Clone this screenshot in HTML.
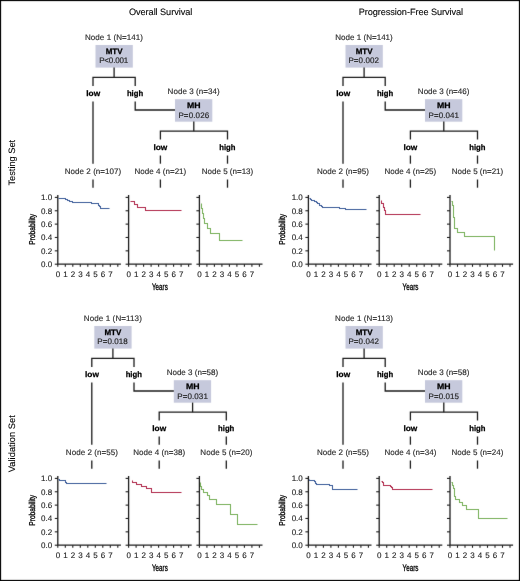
<!DOCTYPE html><html><head><meta charset="utf-8"><style>html,body{margin:0;padding:0;background:#fff;}svg{display:block;will-change:transform;}text{font-family:"Liberation Sans", sans-serif;text-rendering:geometricPrecision;}</style></head><body>
<svg width="520" height="581" viewBox="0 0 520 581">
<defs><filter id="bl" x="0" y="0" width="520" height="581" filterUnits="userSpaceOnUse" color-interpolation-filters="sRGB"><feConvolveMatrix order="3" kernelMatrix="0.01 0.05 0.01 0.05 0.76 0.05 0.01 0.05 0.01" edgeMode="duplicate"/></filter><filter id="bt" x="0" y="0" width="520" height="581" filterUnits="userSpaceOnUse" color-interpolation-filters="sRGB"><feConvolveMatrix order="3" kernelMatrix="0.01 0.05 0.01 0.05 0.76 0.05 0.01 0.05 0.01" edgeMode="duplicate"/></filter></defs><g filter="url(#bl)">
<rect x="0" y="0" width="520" height="581" fill="#fff"/>
<rect x="0.5" y="0.5" width="519" height="580" fill="none" stroke="#000" stroke-width="1.2"/>
<rect x="95.5" y="45" width="37.3" height="22.6" fill="#c6c9dc"/>
<path d="M114.1 67.6 L114.1 77.3" stroke="#1c1c1c" stroke-width="1.3" fill="none"/>
<path d="M93 86 L93 77.3 L135.2 77.3 L135.2 86" stroke="#1c1c1c" stroke-width="1.3" fill="none"/>
<path d="M93 101.5 L93 163.7" stroke="#1c1c1c" stroke-width="1.3" fill="none"/>
<path d="M135.2 101.5 L135.2 110 L175.2 110" stroke="#1c1c1c" stroke-width="1.3" fill="none"/>
<rect x="175" y="99.2" width="37.3" height="22.5" fill="#c6c9dc"/>
<path d="M193.8 121.6 L193.8 131.2" stroke="#1c1c1c" stroke-width="1.3" fill="none"/>
<path d="M160.4 139.6 L160.4 131.2 L227.5 131.2 L227.5 139.6" stroke="#1c1c1c" stroke-width="1.3" fill="none"/>
<path d="M160.4 155.5 L160.4 163.7" stroke="#1c1c1c" stroke-width="1.3" fill="none"/>
<path d="M227.5 155.5 L227.5 163.7" stroke="#1c1c1c" stroke-width="1.3" fill="none"/>
<path d="M93 179.5 L93 187.7" stroke="#1c1c1c" stroke-width="1.3" fill="none"/>
<path d="M160.4 179.5 L160.4 187.7" stroke="#1c1c1c" stroke-width="1.3" fill="none"/>
<path d="M227.5 179.5 L227.5 187.7" stroke="#1c1c1c" stroke-width="1.3" fill="none"/>
<rect x="345.5" y="45" width="37.3" height="22.6" fill="#c6c9dc"/>
<path d="M364.1 67.6 L364.1 77.3" stroke="#1c1c1c" stroke-width="1.3" fill="none"/>
<path d="M343 86 L343 77.3 L385.2 77.3 L385.2 86" stroke="#1c1c1c" stroke-width="1.3" fill="none"/>
<path d="M343 101.5 L343 163.7" stroke="#1c1c1c" stroke-width="1.3" fill="none"/>
<path d="M385.2 101.5 L385.2 110 L425.2 110" stroke="#1c1c1c" stroke-width="1.3" fill="none"/>
<rect x="425" y="99.2" width="37.3" height="22.5" fill="#c6c9dc"/>
<path d="M443.8 121.6 L443.8 131.2" stroke="#1c1c1c" stroke-width="1.3" fill="none"/>
<path d="M410.4 139.6 L410.4 131.2 L477.5 131.2 L477.5 139.6" stroke="#1c1c1c" stroke-width="1.3" fill="none"/>
<path d="M410.4 155.5 L410.4 163.7" stroke="#1c1c1c" stroke-width="1.3" fill="none"/>
<path d="M477.5 155.5 L477.5 163.7" stroke="#1c1c1c" stroke-width="1.3" fill="none"/>
<path d="M343 179.5 L343 187.7" stroke="#1c1c1c" stroke-width="1.3" fill="none"/>
<path d="M410.4 179.5 L410.4 187.7" stroke="#1c1c1c" stroke-width="1.3" fill="none"/>
<path d="M477.5 179.5 L477.5 187.7" stroke="#1c1c1c" stroke-width="1.3" fill="none"/>
<rect x="94.3" y="326" width="37.3" height="22.6" fill="#c6c9dc"/>
<path d="M112.9 348.6 L112.9 358.3" stroke="#1c1c1c" stroke-width="1.3" fill="none"/>
<path d="M91.8 367 L91.8 358.3 L134 358.3 L134 367" stroke="#1c1c1c" stroke-width="1.3" fill="none"/>
<path d="M91.8 382.5 L91.8 444.7" stroke="#1c1c1c" stroke-width="1.3" fill="none"/>
<path d="M134 382.5 L134 391 L174 391" stroke="#1c1c1c" stroke-width="1.3" fill="none"/>
<rect x="173.8" y="380.2" width="37.3" height="22.5" fill="#c6c9dc"/>
<path d="M192.6 402.6 L192.6 412.2" stroke="#1c1c1c" stroke-width="1.3" fill="none"/>
<path d="M159.2 420.6 L159.2 412.2 L226.3 412.2 L226.3 420.6" stroke="#1c1c1c" stroke-width="1.3" fill="none"/>
<path d="M159.2 436.5 L159.2 444.7" stroke="#1c1c1c" stroke-width="1.3" fill="none"/>
<path d="M226.3 436.5 L226.3 444.7" stroke="#1c1c1c" stroke-width="1.3" fill="none"/>
<path d="M91.8 460.5 L91.8 468.7" stroke="#1c1c1c" stroke-width="1.3" fill="none"/>
<path d="M159.2 460.5 L159.2 468.7" stroke="#1c1c1c" stroke-width="1.3" fill="none"/>
<path d="M226.3 460.5 L226.3 468.7" stroke="#1c1c1c" stroke-width="1.3" fill="none"/>
<rect x="345.5" y="326" width="37.3" height="22.6" fill="#c6c9dc"/>
<path d="M364.1 348.6 L364.1 358.3" stroke="#1c1c1c" stroke-width="1.3" fill="none"/>
<path d="M343 367 L343 358.3 L385.2 358.3 L385.2 367" stroke="#1c1c1c" stroke-width="1.3" fill="none"/>
<path d="M343 382.5 L343 444.7" stroke="#1c1c1c" stroke-width="1.3" fill="none"/>
<path d="M385.2 382.5 L385.2 391 L425.2 391" stroke="#1c1c1c" stroke-width="1.3" fill="none"/>
<rect x="425" y="380.2" width="37.3" height="22.5" fill="#c6c9dc"/>
<path d="M443.8 402.6 L443.8 412.2" stroke="#1c1c1c" stroke-width="1.3" fill="none"/>
<path d="M410.4 420.6 L410.4 412.2 L477.5 412.2 L477.5 420.6" stroke="#1c1c1c" stroke-width="1.3" fill="none"/>
<path d="M410.4 436.5 L410.4 444.7" stroke="#1c1c1c" stroke-width="1.3" fill="none"/>
<path d="M477.5 436.5 L477.5 444.7" stroke="#1c1c1c" stroke-width="1.3" fill="none"/>
<path d="M343 460.5 L343 468.7" stroke="#1c1c1c" stroke-width="1.3" fill="none"/>
<path d="M410.4 460.5 L410.4 468.7" stroke="#1c1c1c" stroke-width="1.3" fill="none"/>
<path d="M477.5 460.5 L477.5 468.7" stroke="#1c1c1c" stroke-width="1.3" fill="none"/>
<path d="M57.8 195 L57.8 264.2 L120.9 264.2" stroke="#1c1c1c" stroke-width="1.3" fill="none"/>
<path d="M54.8 264.2 L57.8 264.2" stroke="#1c1c1c" stroke-width="1.1" fill="none"/>
<path d="M54.8 250.84 L57.8 250.84" stroke="#1c1c1c" stroke-width="1.1" fill="none"/>
<path d="M54.8 237.48 L57.8 237.48" stroke="#1c1c1c" stroke-width="1.1" fill="none"/>
<path d="M54.8 224.12 L57.8 224.12" stroke="#1c1c1c" stroke-width="1.1" fill="none"/>
<path d="M54.8 210.76 L57.8 210.76" stroke="#1c1c1c" stroke-width="1.1" fill="none"/>
<path d="M54.8 197.4 L57.8 197.4" stroke="#1c1c1c" stroke-width="1.1" fill="none"/>
<path d="M57.8 264.2 L57.8 266.8" stroke="#1c1c1c" stroke-width="1.1" fill="none"/>
<path d="M65.3 264.2 L65.3 266.8" stroke="#1c1c1c" stroke-width="1.1" fill="none"/>
<path d="M72.8 264.2 L72.8 266.8" stroke="#1c1c1c" stroke-width="1.1" fill="none"/>
<path d="M80.3 264.2 L80.3 266.8" stroke="#1c1c1c" stroke-width="1.1" fill="none"/>
<path d="M87.8 264.2 L87.8 266.8" stroke="#1c1c1c" stroke-width="1.1" fill="none"/>
<path d="M95.3 264.2 L95.3 266.8" stroke="#1c1c1c" stroke-width="1.1" fill="none"/>
<path d="M102.8 264.2 L102.8 266.8" stroke="#1c1c1c" stroke-width="1.1" fill="none"/>
<path d="M110.3 264.2 L110.3 266.8" stroke="#1c1c1c" stroke-width="1.1" fill="none"/>
<path d="M117.8 264.2 L117.8 266.8" stroke="#1c1c1c" stroke-width="1.1" fill="none"/>
<path d="M58.5 198.5 L65.5 198.5 L65.5 199.5 L67.5 199.5 L67.5 200.5 L69.5 200.5 L69.5 201.5 L72.5 201.5 L72.5 202.5 L89.5 202.5 L89.5 202.5 L91.5 202.5 L91.5 203.5 L94.5 203.5 L94.5 203.5 L98.5 203.5 L98.5 205.5 L99.5 205.5 L99.5 206.5 L100.5 206.5 L100.5 208.5 L109.5 208.5" stroke="#3d5d9a" stroke-width="1.05" fill="none"/>
<path d="M128.6 195 L128.6 264.2 L191.7 264.2" stroke="#1c1c1c" stroke-width="1.3" fill="none"/>
<path d="M125.6 264.2 L128.6 264.2" stroke="#1c1c1c" stroke-width="1.1" fill="none"/>
<path d="M125.6 250.84 L128.6 250.84" stroke="#1c1c1c" stroke-width="1.1" fill="none"/>
<path d="M125.6 237.48 L128.6 237.48" stroke="#1c1c1c" stroke-width="1.1" fill="none"/>
<path d="M125.6 224.12 L128.6 224.12" stroke="#1c1c1c" stroke-width="1.1" fill="none"/>
<path d="M125.6 210.76 L128.6 210.76" stroke="#1c1c1c" stroke-width="1.1" fill="none"/>
<path d="M125.6 197.4 L128.6 197.4" stroke="#1c1c1c" stroke-width="1.1" fill="none"/>
<path d="M128.6 264.2 L128.6 266.8" stroke="#1c1c1c" stroke-width="1.1" fill="none"/>
<path d="M136.1 264.2 L136.1 266.8" stroke="#1c1c1c" stroke-width="1.1" fill="none"/>
<path d="M143.6 264.2 L143.6 266.8" stroke="#1c1c1c" stroke-width="1.1" fill="none"/>
<path d="M151.1 264.2 L151.1 266.8" stroke="#1c1c1c" stroke-width="1.1" fill="none"/>
<path d="M158.6 264.2 L158.6 266.8" stroke="#1c1c1c" stroke-width="1.1" fill="none"/>
<path d="M166.1 264.2 L166.1 266.8" stroke="#1c1c1c" stroke-width="1.1" fill="none"/>
<path d="M173.6 264.2 L173.6 266.8" stroke="#1c1c1c" stroke-width="1.1" fill="none"/>
<path d="M181.1 264.2 L181.1 266.8" stroke="#1c1c1c" stroke-width="1.1" fill="none"/>
<path d="M188.6 264.2 L188.6 266.8" stroke="#1c1c1c" stroke-width="1.1" fill="none"/>
<path d="M130.5 201.5 L134.5 201.5 L134.5 204.5 L137.5 204.5 L137.5 207.5 L145.5 207.5 L145.5 210.5 L181.5 210.5" stroke="#b02a4c" stroke-width="1.05" fill="none"/>
<path d="M199.4 195 L199.4 264.2 L262.5 264.2" stroke="#1c1c1c" stroke-width="1.3" fill="none"/>
<path d="M196.4 264.2 L199.4 264.2" stroke="#1c1c1c" stroke-width="1.1" fill="none"/>
<path d="M196.4 250.84 L199.4 250.84" stroke="#1c1c1c" stroke-width="1.1" fill="none"/>
<path d="M196.4 237.48 L199.4 237.48" stroke="#1c1c1c" stroke-width="1.1" fill="none"/>
<path d="M196.4 224.12 L199.4 224.12" stroke="#1c1c1c" stroke-width="1.1" fill="none"/>
<path d="M196.4 210.76 L199.4 210.76" stroke="#1c1c1c" stroke-width="1.1" fill="none"/>
<path d="M196.4 197.4 L199.4 197.4" stroke="#1c1c1c" stroke-width="1.1" fill="none"/>
<path d="M199.4 264.2 L199.4 266.8" stroke="#1c1c1c" stroke-width="1.1" fill="none"/>
<path d="M206.9 264.2 L206.9 266.8" stroke="#1c1c1c" stroke-width="1.1" fill="none"/>
<path d="M214.4 264.2 L214.4 266.8" stroke="#1c1c1c" stroke-width="1.1" fill="none"/>
<path d="M221.9 264.2 L221.9 266.8" stroke="#1c1c1c" stroke-width="1.1" fill="none"/>
<path d="M229.4 264.2 L229.4 266.8" stroke="#1c1c1c" stroke-width="1.1" fill="none"/>
<path d="M236.9 264.2 L236.9 266.8" stroke="#1c1c1c" stroke-width="1.1" fill="none"/>
<path d="M244.4 264.2 L244.4 266.8" stroke="#1c1c1c" stroke-width="1.1" fill="none"/>
<path d="M251.9 264.2 L251.9 266.8" stroke="#1c1c1c" stroke-width="1.1" fill="none"/>
<path d="M259.4 264.2 L259.4 266.8" stroke="#1c1c1c" stroke-width="1.1" fill="none"/>
<path d="M201.5 203.5 L201.5 208.5 L202.5 208.5 L202.5 213.5 L203.5 213.5 L203.5 218.5 L204.5 218.5 L204.5 223.5 L207.5 223.5 L207.5 228.5 L210.5 228.5 L210.5 233.5 L219.5 233.5 L219.5 240.5 L242.5 240.5" stroke="#78b05a" stroke-width="1.05" fill="none"/>
<path d="M308.4 195 L308.4 264.2 L371.5 264.2" stroke="#1c1c1c" stroke-width="1.3" fill="none"/>
<path d="M305.4 264.2 L308.4 264.2" stroke="#1c1c1c" stroke-width="1.1" fill="none"/>
<path d="M305.4 250.84 L308.4 250.84" stroke="#1c1c1c" stroke-width="1.1" fill="none"/>
<path d="M305.4 237.48 L308.4 237.48" stroke="#1c1c1c" stroke-width="1.1" fill="none"/>
<path d="M305.4 224.12 L308.4 224.12" stroke="#1c1c1c" stroke-width="1.1" fill="none"/>
<path d="M305.4 210.76 L308.4 210.76" stroke="#1c1c1c" stroke-width="1.1" fill="none"/>
<path d="M305.4 197.4 L308.4 197.4" stroke="#1c1c1c" stroke-width="1.1" fill="none"/>
<path d="M308.4 264.2 L308.4 266.8" stroke="#1c1c1c" stroke-width="1.1" fill="none"/>
<path d="M315.9 264.2 L315.9 266.8" stroke="#1c1c1c" stroke-width="1.1" fill="none"/>
<path d="M323.4 264.2 L323.4 266.8" stroke="#1c1c1c" stroke-width="1.1" fill="none"/>
<path d="M330.9 264.2 L330.9 266.8" stroke="#1c1c1c" stroke-width="1.1" fill="none"/>
<path d="M338.4 264.2 L338.4 266.8" stroke="#1c1c1c" stroke-width="1.1" fill="none"/>
<path d="M345.9 264.2 L345.9 266.8" stroke="#1c1c1c" stroke-width="1.1" fill="none"/>
<path d="M353.4 264.2 L353.4 266.8" stroke="#1c1c1c" stroke-width="1.1" fill="none"/>
<path d="M360.9 264.2 L360.9 266.8" stroke="#1c1c1c" stroke-width="1.1" fill="none"/>
<path d="M368.4 264.2 L368.4 266.8" stroke="#1c1c1c" stroke-width="1.1" fill="none"/>
<path d="M309.5 198.5 L310.5 198.5 L310.5 199.5 L311.5 199.5 L311.5 200.5 L314.5 200.5 L314.5 201.5 L316.5 201.5 L316.5 202.5 L317.5 202.5 L317.5 203.5 L319.5 203.5 L319.5 205.5 L321.5 205.5 L321.5 206.5 L322.5 206.5 L322.5 207.5 L339.5 207.5 L339.5 208.5 L345.5 208.5 L345.5 209.5 L366.5 209.5" stroke="#3d5d9a" stroke-width="1.05" fill="none"/>
<path d="M379.2 195 L379.2 264.2 L442.3 264.2" stroke="#1c1c1c" stroke-width="1.3" fill="none"/>
<path d="M376.2 264.2 L379.2 264.2" stroke="#1c1c1c" stroke-width="1.1" fill="none"/>
<path d="M376.2 250.84 L379.2 250.84" stroke="#1c1c1c" stroke-width="1.1" fill="none"/>
<path d="M376.2 237.48 L379.2 237.48" stroke="#1c1c1c" stroke-width="1.1" fill="none"/>
<path d="M376.2 224.12 L379.2 224.12" stroke="#1c1c1c" stroke-width="1.1" fill="none"/>
<path d="M376.2 210.76 L379.2 210.76" stroke="#1c1c1c" stroke-width="1.1" fill="none"/>
<path d="M376.2 197.4 L379.2 197.4" stroke="#1c1c1c" stroke-width="1.1" fill="none"/>
<path d="M379.2 264.2 L379.2 266.8" stroke="#1c1c1c" stroke-width="1.1" fill="none"/>
<path d="M386.7 264.2 L386.7 266.8" stroke="#1c1c1c" stroke-width="1.1" fill="none"/>
<path d="M394.2 264.2 L394.2 266.8" stroke="#1c1c1c" stroke-width="1.1" fill="none"/>
<path d="M401.7 264.2 L401.7 266.8" stroke="#1c1c1c" stroke-width="1.1" fill="none"/>
<path d="M409.2 264.2 L409.2 266.8" stroke="#1c1c1c" stroke-width="1.1" fill="none"/>
<path d="M416.7 264.2 L416.7 266.8" stroke="#1c1c1c" stroke-width="1.1" fill="none"/>
<path d="M424.2 264.2 L424.2 266.8" stroke="#1c1c1c" stroke-width="1.1" fill="none"/>
<path d="M431.7 264.2 L431.7 266.8" stroke="#1c1c1c" stroke-width="1.1" fill="none"/>
<path d="M439.2 264.2 L439.2 266.8" stroke="#1c1c1c" stroke-width="1.1" fill="none"/>
<path d="M381.5 200.5 L381.5 203.5 L383.5 203.5 L383.5 207.5 L384.5 207.5 L384.5 210.5 L385.5 210.5 L385.5 214.5 L420.5 214.5" stroke="#b02a4c" stroke-width="1.05" fill="none"/>
<path d="M450 195 L450 264.2 L513.1 264.2" stroke="#1c1c1c" stroke-width="1.3" fill="none"/>
<path d="M447 264.2 L450 264.2" stroke="#1c1c1c" stroke-width="1.1" fill="none"/>
<path d="M447 250.84 L450 250.84" stroke="#1c1c1c" stroke-width="1.1" fill="none"/>
<path d="M447 237.48 L450 237.48" stroke="#1c1c1c" stroke-width="1.1" fill="none"/>
<path d="M447 224.12 L450 224.12" stroke="#1c1c1c" stroke-width="1.1" fill="none"/>
<path d="M447 210.76 L450 210.76" stroke="#1c1c1c" stroke-width="1.1" fill="none"/>
<path d="M447 197.4 L450 197.4" stroke="#1c1c1c" stroke-width="1.1" fill="none"/>
<path d="M450 264.2 L450 266.8" stroke="#1c1c1c" stroke-width="1.1" fill="none"/>
<path d="M457.5 264.2 L457.5 266.8" stroke="#1c1c1c" stroke-width="1.1" fill="none"/>
<path d="M465 264.2 L465 266.8" stroke="#1c1c1c" stroke-width="1.1" fill="none"/>
<path d="M472.5 264.2 L472.5 266.8" stroke="#1c1c1c" stroke-width="1.1" fill="none"/>
<path d="M480 264.2 L480 266.8" stroke="#1c1c1c" stroke-width="1.1" fill="none"/>
<path d="M487.5 264.2 L487.5 266.8" stroke="#1c1c1c" stroke-width="1.1" fill="none"/>
<path d="M495 264.2 L495 266.8" stroke="#1c1c1c" stroke-width="1.1" fill="none"/>
<path d="M502.5 264.2 L502.5 266.8" stroke="#1c1c1c" stroke-width="1.1" fill="none"/>
<path d="M510 264.2 L510 266.8" stroke="#1c1c1c" stroke-width="1.1" fill="none"/>
<path d="M451.5 201.5 L452.5 201.5 L452.5 205.5 L453.5 205.5 L453.5 211.5 L453.5 211.5 L453.5 217.5 L454.5 217.5 L454.5 222.5 L454.5 222.5 L454.5 228.5 L457.5 228.5 L457.5 232.5 L464.5 232.5 L464.5 236.5 L494.5 236.5 L494.5 250.5" stroke="#78b05a" stroke-width="1.05" fill="none"/>
<path d="M57.8 476 L57.8 545.2 L120.9 545.2" stroke="#1c1c1c" stroke-width="1.3" fill="none"/>
<path d="M54.8 545.2 L57.8 545.2" stroke="#1c1c1c" stroke-width="1.1" fill="none"/>
<path d="M54.8 531.84 L57.8 531.84" stroke="#1c1c1c" stroke-width="1.1" fill="none"/>
<path d="M54.8 518.48 L57.8 518.48" stroke="#1c1c1c" stroke-width="1.1" fill="none"/>
<path d="M54.8 505.12 L57.8 505.12" stroke="#1c1c1c" stroke-width="1.1" fill="none"/>
<path d="M54.8 491.76 L57.8 491.76" stroke="#1c1c1c" stroke-width="1.1" fill="none"/>
<path d="M54.8 478.4 L57.8 478.4" stroke="#1c1c1c" stroke-width="1.1" fill="none"/>
<path d="M57.8 545.2 L57.8 547.8" stroke="#1c1c1c" stroke-width="1.1" fill="none"/>
<path d="M65.3 545.2 L65.3 547.8" stroke="#1c1c1c" stroke-width="1.1" fill="none"/>
<path d="M72.8 545.2 L72.8 547.8" stroke="#1c1c1c" stroke-width="1.1" fill="none"/>
<path d="M80.3 545.2 L80.3 547.8" stroke="#1c1c1c" stroke-width="1.1" fill="none"/>
<path d="M87.8 545.2 L87.8 547.8" stroke="#1c1c1c" stroke-width="1.1" fill="none"/>
<path d="M95.3 545.2 L95.3 547.8" stroke="#1c1c1c" stroke-width="1.1" fill="none"/>
<path d="M102.8 545.2 L102.8 547.8" stroke="#1c1c1c" stroke-width="1.1" fill="none"/>
<path d="M110.3 545.2 L110.3 547.8" stroke="#1c1c1c" stroke-width="1.1" fill="none"/>
<path d="M117.8 545.2 L117.8 547.8" stroke="#1c1c1c" stroke-width="1.1" fill="none"/>
<path d="M58.5 479.5 L59.5 479.5 L59.5 480.5 L65.5 480.5 L65.5 482.5 L66.5 482.5 L66.5 483.5 L106.5 483.5" stroke="#3d5d9a" stroke-width="1.05" fill="none"/>
<path d="M128.6 476 L128.6 545.2 L191.7 545.2" stroke="#1c1c1c" stroke-width="1.3" fill="none"/>
<path d="M125.6 545.2 L128.6 545.2" stroke="#1c1c1c" stroke-width="1.1" fill="none"/>
<path d="M125.6 531.84 L128.6 531.84" stroke="#1c1c1c" stroke-width="1.1" fill="none"/>
<path d="M125.6 518.48 L128.6 518.48" stroke="#1c1c1c" stroke-width="1.1" fill="none"/>
<path d="M125.6 505.12 L128.6 505.12" stroke="#1c1c1c" stroke-width="1.1" fill="none"/>
<path d="M125.6 491.76 L128.6 491.76" stroke="#1c1c1c" stroke-width="1.1" fill="none"/>
<path d="M125.6 478.4 L128.6 478.4" stroke="#1c1c1c" stroke-width="1.1" fill="none"/>
<path d="M128.6 545.2 L128.6 547.8" stroke="#1c1c1c" stroke-width="1.1" fill="none"/>
<path d="M136.1 545.2 L136.1 547.8" stroke="#1c1c1c" stroke-width="1.1" fill="none"/>
<path d="M143.6 545.2 L143.6 547.8" stroke="#1c1c1c" stroke-width="1.1" fill="none"/>
<path d="M151.1 545.2 L151.1 547.8" stroke="#1c1c1c" stroke-width="1.1" fill="none"/>
<path d="M158.6 545.2 L158.6 547.8" stroke="#1c1c1c" stroke-width="1.1" fill="none"/>
<path d="M166.1 545.2 L166.1 547.8" stroke="#1c1c1c" stroke-width="1.1" fill="none"/>
<path d="M173.6 545.2 L173.6 547.8" stroke="#1c1c1c" stroke-width="1.1" fill="none"/>
<path d="M181.1 545.2 L181.1 547.8" stroke="#1c1c1c" stroke-width="1.1" fill="none"/>
<path d="M188.6 545.2 L188.6 547.8" stroke="#1c1c1c" stroke-width="1.1" fill="none"/>
<path d="M132.5 480.5 L132.5 482.5 L136.5 482.5 L136.5 484.5 L141.5 484.5 L141.5 486.5 L146.5 486.5 L146.5 488.5 L151.5 488.5 L151.5 492.5 L181.5 492.5" stroke="#b02a4c" stroke-width="1.05" fill="none"/>
<path d="M199.4 476 L199.4 545.2 L262.5 545.2" stroke="#1c1c1c" stroke-width="1.3" fill="none"/>
<path d="M196.4 545.2 L199.4 545.2" stroke="#1c1c1c" stroke-width="1.1" fill="none"/>
<path d="M196.4 531.84 L199.4 531.84" stroke="#1c1c1c" stroke-width="1.1" fill="none"/>
<path d="M196.4 518.48 L199.4 518.48" stroke="#1c1c1c" stroke-width="1.1" fill="none"/>
<path d="M196.4 505.12 L199.4 505.12" stroke="#1c1c1c" stroke-width="1.1" fill="none"/>
<path d="M196.4 491.76 L199.4 491.76" stroke="#1c1c1c" stroke-width="1.1" fill="none"/>
<path d="M196.4 478.4 L199.4 478.4" stroke="#1c1c1c" stroke-width="1.1" fill="none"/>
<path d="M199.4 545.2 L199.4 547.8" stroke="#1c1c1c" stroke-width="1.1" fill="none"/>
<path d="M206.9 545.2 L206.9 547.8" stroke="#1c1c1c" stroke-width="1.1" fill="none"/>
<path d="M214.4 545.2 L214.4 547.8" stroke="#1c1c1c" stroke-width="1.1" fill="none"/>
<path d="M221.9 545.2 L221.9 547.8" stroke="#1c1c1c" stroke-width="1.1" fill="none"/>
<path d="M229.4 545.2 L229.4 547.8" stroke="#1c1c1c" stroke-width="1.1" fill="none"/>
<path d="M236.9 545.2 L236.9 547.8" stroke="#1c1c1c" stroke-width="1.1" fill="none"/>
<path d="M244.4 545.2 L244.4 547.8" stroke="#1c1c1c" stroke-width="1.1" fill="none"/>
<path d="M251.9 545.2 L251.9 547.8" stroke="#1c1c1c" stroke-width="1.1" fill="none"/>
<path d="M259.4 545.2 L259.4 547.8" stroke="#1c1c1c" stroke-width="1.1" fill="none"/>
<path d="M200.5 482.5 L200.5 482.5 L200.5 486.5 L201.5 486.5 L201.5 489.5 L203.5 489.5 L203.5 492.5 L207.5 492.5 L207.5 495.5 L209.5 495.5 L209.5 499.5 L216.5 499.5 L216.5 504.5 L230.5 504.5 L230.5 514.5 L237.5 514.5 L237.5 524.5 L257.5 524.5" stroke="#78b05a" stroke-width="1.05" fill="none"/>
<path d="M308.4 476 L308.4 545.2 L371.5 545.2" stroke="#1c1c1c" stroke-width="1.3" fill="none"/>
<path d="M305.4 545.2 L308.4 545.2" stroke="#1c1c1c" stroke-width="1.1" fill="none"/>
<path d="M305.4 531.84 L308.4 531.84" stroke="#1c1c1c" stroke-width="1.1" fill="none"/>
<path d="M305.4 518.48 L308.4 518.48" stroke="#1c1c1c" stroke-width="1.1" fill="none"/>
<path d="M305.4 505.12 L308.4 505.12" stroke="#1c1c1c" stroke-width="1.1" fill="none"/>
<path d="M305.4 491.76 L308.4 491.76" stroke="#1c1c1c" stroke-width="1.1" fill="none"/>
<path d="M305.4 478.4 L308.4 478.4" stroke="#1c1c1c" stroke-width="1.1" fill="none"/>
<path d="M308.4 545.2 L308.4 547.8" stroke="#1c1c1c" stroke-width="1.1" fill="none"/>
<path d="M315.9 545.2 L315.9 547.8" stroke="#1c1c1c" stroke-width="1.1" fill="none"/>
<path d="M323.4 545.2 L323.4 547.8" stroke="#1c1c1c" stroke-width="1.1" fill="none"/>
<path d="M330.9 545.2 L330.9 547.8" stroke="#1c1c1c" stroke-width="1.1" fill="none"/>
<path d="M338.4 545.2 L338.4 547.8" stroke="#1c1c1c" stroke-width="1.1" fill="none"/>
<path d="M345.9 545.2 L345.9 547.8" stroke="#1c1c1c" stroke-width="1.1" fill="none"/>
<path d="M353.4 545.2 L353.4 547.8" stroke="#1c1c1c" stroke-width="1.1" fill="none"/>
<path d="M360.9 545.2 L360.9 547.8" stroke="#1c1c1c" stroke-width="1.1" fill="none"/>
<path d="M368.4 545.2 L368.4 547.8" stroke="#1c1c1c" stroke-width="1.1" fill="none"/>
<path d="M309.5 479.5 L309.5 480.5 L314.5 480.5 L314.5 481.5 L315.5 481.5 L315.5 483.5 L316.5 483.5 L316.5 484.5 L329.5 484.5 L329.5 485.5 L332.5 485.5 L332.5 489.5 L357.5 489.5" stroke="#3d5d9a" stroke-width="1.05" fill="none"/>
<path d="M379.2 476 L379.2 545.2 L442.3 545.2" stroke="#1c1c1c" stroke-width="1.3" fill="none"/>
<path d="M376.2 545.2 L379.2 545.2" stroke="#1c1c1c" stroke-width="1.1" fill="none"/>
<path d="M376.2 531.84 L379.2 531.84" stroke="#1c1c1c" stroke-width="1.1" fill="none"/>
<path d="M376.2 518.48 L379.2 518.48" stroke="#1c1c1c" stroke-width="1.1" fill="none"/>
<path d="M376.2 505.12 L379.2 505.12" stroke="#1c1c1c" stroke-width="1.1" fill="none"/>
<path d="M376.2 491.76 L379.2 491.76" stroke="#1c1c1c" stroke-width="1.1" fill="none"/>
<path d="M376.2 478.4 L379.2 478.4" stroke="#1c1c1c" stroke-width="1.1" fill="none"/>
<path d="M379.2 545.2 L379.2 547.8" stroke="#1c1c1c" stroke-width="1.1" fill="none"/>
<path d="M386.7 545.2 L386.7 547.8" stroke="#1c1c1c" stroke-width="1.1" fill="none"/>
<path d="M394.2 545.2 L394.2 547.8" stroke="#1c1c1c" stroke-width="1.1" fill="none"/>
<path d="M401.7 545.2 L401.7 547.8" stroke="#1c1c1c" stroke-width="1.1" fill="none"/>
<path d="M409.2 545.2 L409.2 547.8" stroke="#1c1c1c" stroke-width="1.1" fill="none"/>
<path d="M416.7 545.2 L416.7 547.8" stroke="#1c1c1c" stroke-width="1.1" fill="none"/>
<path d="M424.2 545.2 L424.2 547.8" stroke="#1c1c1c" stroke-width="1.1" fill="none"/>
<path d="M431.7 545.2 L431.7 547.8" stroke="#1c1c1c" stroke-width="1.1" fill="none"/>
<path d="M439.2 545.2 L439.2 547.8" stroke="#1c1c1c" stroke-width="1.1" fill="none"/>
<path d="M381.5 481.5 L382.5 481.5 L382.5 482.5 L383.5 482.5 L383.5 485.5 L390.5 485.5 L390.5 486.5 L391.5 486.5 L391.5 487.5 L392.5 487.5 L392.5 489.5 L432.5 489.5" stroke="#b02a4c" stroke-width="1.05" fill="none"/>
<path d="M450 476 L450 545.2 L513.1 545.2" stroke="#1c1c1c" stroke-width="1.3" fill="none"/>
<path d="M447 545.2 L450 545.2" stroke="#1c1c1c" stroke-width="1.1" fill="none"/>
<path d="M447 531.84 L450 531.84" stroke="#1c1c1c" stroke-width="1.1" fill="none"/>
<path d="M447 518.48 L450 518.48" stroke="#1c1c1c" stroke-width="1.1" fill="none"/>
<path d="M447 505.12 L450 505.12" stroke="#1c1c1c" stroke-width="1.1" fill="none"/>
<path d="M447 491.76 L450 491.76" stroke="#1c1c1c" stroke-width="1.1" fill="none"/>
<path d="M447 478.4 L450 478.4" stroke="#1c1c1c" stroke-width="1.1" fill="none"/>
<path d="M450 545.2 L450 547.8" stroke="#1c1c1c" stroke-width="1.1" fill="none"/>
<path d="M457.5 545.2 L457.5 547.8" stroke="#1c1c1c" stroke-width="1.1" fill="none"/>
<path d="M465 545.2 L465 547.8" stroke="#1c1c1c" stroke-width="1.1" fill="none"/>
<path d="M472.5 545.2 L472.5 547.8" stroke="#1c1c1c" stroke-width="1.1" fill="none"/>
<path d="M480 545.2 L480 547.8" stroke="#1c1c1c" stroke-width="1.1" fill="none"/>
<path d="M487.5 545.2 L487.5 547.8" stroke="#1c1c1c" stroke-width="1.1" fill="none"/>
<path d="M495 545.2 L495 547.8" stroke="#1c1c1c" stroke-width="1.1" fill="none"/>
<path d="M502.5 545.2 L502.5 547.8" stroke="#1c1c1c" stroke-width="1.1" fill="none"/>
<path d="M510 545.2 L510 547.8" stroke="#1c1c1c" stroke-width="1.1" fill="none"/>
<path d="M451.5 482.5 L452.5 482.5 L452.5 483.5 L452.5 483.5 L452.5 485.5 L453.5 485.5 L453.5 487.5 L453.5 487.5 L453.5 488.5 L454.5 488.5 L454.5 496.5 L455.5 496.5 L455.5 499.5 L459.5 499.5 L459.5 502.5 L462.5 502.5 L462.5 505.5 L466.5 505.5 L466.5 509.5 L478.5 509.5 L478.5 518.5 L507.5 518.5" stroke="#78b05a" stroke-width="1.05" fill="none"/>
</g>
<g>
<text x="160.6" y="15.4" font-size="9.2" text-anchor="middle" fill="#000" stroke="#000" stroke-width="0.1" textLength="63.3" lengthAdjust="spacing">Overall Survival</text>
<text x="410.9" y="15.4" font-size="9.2" text-anchor="middle" fill="#000" stroke="#000" stroke-width="0.1" textLength="104.3" lengthAdjust="spacing">Progression-Free Survival</text>
<text x="0" y="0" font-size="9.3" text-anchor="middle" fill="#000" stroke="#000" stroke-width="0.1" textLength="45.6" lengthAdjust="spacing" transform="translate(14.6 162.7) rotate(-90)">Testing Set</text>
<text x="0" y="0" font-size="9.3" text-anchor="middle" fill="#000" stroke="#000" stroke-width="0.1" textLength="57.2" lengthAdjust="spacing" transform="translate(14.6 443.7) rotate(-90)">Validation Set</text>
<text x="114" y="39.8" font-size="8" text-anchor="middle" fill="#2a2a2a" stroke="#2a2a2a" stroke-width="0.15" textLength="58" lengthAdjust="spacing">Node 1 (N=141)</text>
<text x="114.1" y="53.8" font-size="8" text-anchor="middle" fill="#000" stroke="#000" stroke-width="0.25" font-weight="bold" textLength="16.9" lengthAdjust="spacingAndGlyphs">MTV</text>
<text x="113.7" y="63.3" font-size="8" text-anchor="middle" fill="#222" stroke="#222" stroke-width="0.15" textLength="29" lengthAdjust="spacing">P&lt;0.001</text>
<text x="93.2" y="96" font-size="8" text-anchor="middle" fill="#000" stroke="#000" stroke-width="0.25" font-weight="bold" textLength="13.9" lengthAdjust="spacingAndGlyphs">low</text>
<text x="135" y="96" font-size="8" text-anchor="middle" fill="#000" stroke="#000" stroke-width="0.25" font-weight="bold" textLength="16.2" lengthAdjust="spacingAndGlyphs">high</text>
<text x="193.6" y="93.8" font-size="8" text-anchor="middle" fill="#2a2a2a" stroke="#2a2a2a" stroke-width="0.15" textLength="52" lengthAdjust="spacing">Node 3 (n=34)</text>
<text x="193.9" y="107.6" font-size="8" text-anchor="middle" fill="#000" stroke="#000" stroke-width="0.25" font-weight="bold" textLength="13.6" lengthAdjust="spacingAndGlyphs">MH</text>
<text x="193.8" y="117.8" font-size="8" text-anchor="middle" fill="#222" stroke="#222" stroke-width="0.15" textLength="30.8" lengthAdjust="spacing">P=0.026</text>
<text x="160.4" y="149.5" font-size="8" text-anchor="middle" fill="#000" stroke="#000" stroke-width="0.25" font-weight="bold" textLength="13.9" lengthAdjust="spacingAndGlyphs">low</text>
<text x="227.4" y="149.5" font-size="8" text-anchor="middle" fill="#000" stroke="#000" stroke-width="0.25" font-weight="bold" textLength="16.2" lengthAdjust="spacingAndGlyphs">high</text>
<text x="93" y="174.2" font-size="8" text-anchor="middle" fill="#2a2a2a" stroke="#2a2a2a" stroke-width="0.15" textLength="56.4" lengthAdjust="spacing">Node 2 (n=107)</text>
<text x="160.4" y="174.2" font-size="8" text-anchor="middle" fill="#2a2a2a" stroke="#2a2a2a" stroke-width="0.15" textLength="51.7" lengthAdjust="spacing">Node 4 (n=21)</text>
<text x="227.5" y="174.2" font-size="8" text-anchor="middle" fill="#2a2a2a" stroke="#2a2a2a" stroke-width="0.15" textLength="51.5" lengthAdjust="spacing">Node 5 (n=13)</text>
<text x="364" y="39.8" font-size="8" text-anchor="middle" fill="#2a2a2a" stroke="#2a2a2a" stroke-width="0.15" textLength="57.5" lengthAdjust="spacing">Node 1 (N=141)</text>
<text x="364.1" y="53.8" font-size="8" text-anchor="middle" fill="#000" stroke="#000" stroke-width="0.25" font-weight="bold" textLength="16.9" lengthAdjust="spacingAndGlyphs">MTV</text>
<text x="363.7" y="63.3" font-size="8" text-anchor="middle" fill="#222" stroke="#222" stroke-width="0.15" textLength="30.5" lengthAdjust="spacing">P=0.002</text>
<text x="343.2" y="96" font-size="8" text-anchor="middle" fill="#000" stroke="#000" stroke-width="0.25" font-weight="bold" textLength="13.9" lengthAdjust="spacingAndGlyphs">low</text>
<text x="385" y="96" font-size="8" text-anchor="middle" fill="#000" stroke="#000" stroke-width="0.25" font-weight="bold" textLength="16.2" lengthAdjust="spacingAndGlyphs">high</text>
<text x="443.6" y="93.8" font-size="8" text-anchor="middle" fill="#2a2a2a" stroke="#2a2a2a" stroke-width="0.15" textLength="51.5" lengthAdjust="spacing">Node 3 (n=46)</text>
<text x="443.9" y="107.6" font-size="8" text-anchor="middle" fill="#000" stroke="#000" stroke-width="0.25" font-weight="bold" textLength="13.6" lengthAdjust="spacingAndGlyphs">MH</text>
<text x="443.8" y="117.8" font-size="8" text-anchor="middle" fill="#222" stroke="#222" stroke-width="0.15" textLength="30.5" lengthAdjust="spacing">P=0.041</text>
<text x="410.4" y="149.5" font-size="8" text-anchor="middle" fill="#000" stroke="#000" stroke-width="0.25" font-weight="bold" textLength="13.9" lengthAdjust="spacingAndGlyphs">low</text>
<text x="477.4" y="149.5" font-size="8" text-anchor="middle" fill="#000" stroke="#000" stroke-width="0.25" font-weight="bold" textLength="16.2" lengthAdjust="spacingAndGlyphs">high</text>
<text x="343" y="174.2" font-size="8" text-anchor="middle" fill="#2a2a2a" stroke="#2a2a2a" stroke-width="0.15" textLength="52" lengthAdjust="spacing">Node 2 (n=95)</text>
<text x="410.4" y="174.2" font-size="8" text-anchor="middle" fill="#2a2a2a" stroke="#2a2a2a" stroke-width="0.15" textLength="51.7" lengthAdjust="spacing">Node 4 (n=25)</text>
<text x="477.5" y="174.2" font-size="8" text-anchor="middle" fill="#2a2a2a" stroke="#2a2a2a" stroke-width="0.15" textLength="51.5" lengthAdjust="spacing">Node 5 (n=21)</text>
<text x="112.8" y="320.8" font-size="8" text-anchor="middle" fill="#2a2a2a" stroke="#2a2a2a" stroke-width="0.15" textLength="58" lengthAdjust="spacing">Node 1 (N=113)</text>
<text x="112.9" y="334.8" font-size="8" text-anchor="middle" fill="#000" stroke="#000" stroke-width="0.25" font-weight="bold" textLength="16.9" lengthAdjust="spacingAndGlyphs">MTV</text>
<text x="112.5" y="344.3" font-size="8" text-anchor="middle" fill="#222" stroke="#222" stroke-width="0.15" textLength="30.5" lengthAdjust="spacing">P=0.018</text>
<text x="92" y="377" font-size="8" text-anchor="middle" fill="#000" stroke="#000" stroke-width="0.25" font-weight="bold" textLength="13.9" lengthAdjust="spacingAndGlyphs">low</text>
<text x="133.8" y="377" font-size="8" text-anchor="middle" fill="#000" stroke="#000" stroke-width="0.25" font-weight="bold" textLength="16.2" lengthAdjust="spacingAndGlyphs">high</text>
<text x="192.4" y="374.8" font-size="8" text-anchor="middle" fill="#2a2a2a" stroke="#2a2a2a" stroke-width="0.15" textLength="51.5" lengthAdjust="spacing">Node 3 (n=58)</text>
<text x="192.7" y="388.6" font-size="8" text-anchor="middle" fill="#000" stroke="#000" stroke-width="0.25" font-weight="bold" textLength="13.6" lengthAdjust="spacingAndGlyphs">MH</text>
<text x="192.6" y="398.8" font-size="8" text-anchor="middle" fill="#222" stroke="#222" stroke-width="0.15" textLength="30.5" lengthAdjust="spacing">P=0.031</text>
<text x="159.2" y="430.5" font-size="8" text-anchor="middle" fill="#000" stroke="#000" stroke-width="0.25" font-weight="bold" textLength="13.9" lengthAdjust="spacingAndGlyphs">low</text>
<text x="226.2" y="430.5" font-size="8" text-anchor="middle" fill="#000" stroke="#000" stroke-width="0.25" font-weight="bold" textLength="16.2" lengthAdjust="spacingAndGlyphs">high</text>
<text x="91.8" y="455.2" font-size="8" text-anchor="middle" fill="#2a2a2a" stroke="#2a2a2a" stroke-width="0.15" textLength="52" lengthAdjust="spacing">Node 2 (n=55)</text>
<text x="159.2" y="455.2" font-size="8" text-anchor="middle" fill="#2a2a2a" stroke="#2a2a2a" stroke-width="0.15" textLength="52" lengthAdjust="spacing">Node 4 (n=38)</text>
<text x="226.3" y="455.2" font-size="8" text-anchor="middle" fill="#2a2a2a" stroke="#2a2a2a" stroke-width="0.15" textLength="52" lengthAdjust="spacing">Node 5 (n=20)</text>
<text x="364" y="320.8" font-size="8" text-anchor="middle" fill="#2a2a2a" stroke="#2a2a2a" stroke-width="0.15" textLength="58" lengthAdjust="spacing">Node 1 (N=113)</text>
<text x="364.1" y="334.8" font-size="8" text-anchor="middle" fill="#000" stroke="#000" stroke-width="0.25" font-weight="bold" textLength="16.9" lengthAdjust="spacingAndGlyphs">MTV</text>
<text x="363.7" y="344.3" font-size="8" text-anchor="middle" fill="#222" stroke="#222" stroke-width="0.15" textLength="30.5" lengthAdjust="spacing">P=0.042</text>
<text x="343.2" y="377" font-size="8" text-anchor="middle" fill="#000" stroke="#000" stroke-width="0.25" font-weight="bold" textLength="13.9" lengthAdjust="spacingAndGlyphs">low</text>
<text x="385" y="377" font-size="8" text-anchor="middle" fill="#000" stroke="#000" stroke-width="0.25" font-weight="bold" textLength="16.2" lengthAdjust="spacingAndGlyphs">high</text>
<text x="443.6" y="374.8" font-size="8" text-anchor="middle" fill="#2a2a2a" stroke="#2a2a2a" stroke-width="0.15" textLength="51.5" lengthAdjust="spacing">Node 3 (n=58)</text>
<text x="443.9" y="388.6" font-size="8" text-anchor="middle" fill="#000" stroke="#000" stroke-width="0.25" font-weight="bold" textLength="13.6" lengthAdjust="spacingAndGlyphs">MH</text>
<text x="443.8" y="398.8" font-size="8" text-anchor="middle" fill="#222" stroke="#222" stroke-width="0.15" textLength="30.5" lengthAdjust="spacing">P=0.015</text>
<text x="410.4" y="430.5" font-size="8" text-anchor="middle" fill="#000" stroke="#000" stroke-width="0.25" font-weight="bold" textLength="13.9" lengthAdjust="spacingAndGlyphs">low</text>
<text x="477.4" y="430.5" font-size="8" text-anchor="middle" fill="#000" stroke="#000" stroke-width="0.25" font-weight="bold" textLength="16.2" lengthAdjust="spacingAndGlyphs">high</text>
<text x="343" y="455.2" font-size="8" text-anchor="middle" fill="#2a2a2a" stroke="#2a2a2a" stroke-width="0.15" textLength="52" lengthAdjust="spacing">Node 2 (n=55)</text>
<text x="410.4" y="455.2" font-size="8" text-anchor="middle" fill="#2a2a2a" stroke="#2a2a2a" stroke-width="0.15" textLength="52" lengthAdjust="spacing">Node 4 (n=34)</text>
<text x="477.5" y="455.2" font-size="8" text-anchor="middle" fill="#2a2a2a" stroke="#2a2a2a" stroke-width="0.15" textLength="52" lengthAdjust="spacing">Node 5 (n=24)</text>
<text x="52.2" y="267.1" font-size="8" text-anchor="end" fill="#222" stroke="#222" stroke-width="0.12">0.0</text>
<text x="52.2" y="253.74" font-size="8" text-anchor="end" fill="#222" stroke="#222" stroke-width="0.12">0.2</text>
<text x="52.2" y="240.38" font-size="8" text-anchor="end" fill="#222" stroke="#222" stroke-width="0.12">0.4</text>
<text x="52.2" y="227.02" font-size="8" text-anchor="end" fill="#222" stroke="#222" stroke-width="0.12">0.6</text>
<text x="52.2" y="213.66" font-size="8" text-anchor="end" fill="#222" stroke="#222" stroke-width="0.12">0.8</text>
<text x="52.2" y="200.3" font-size="8" text-anchor="end" fill="#222" stroke="#222" stroke-width="0.12">1.0</text>
<text x="57.9" y="276.9" font-size="8" text-anchor="middle" fill="#222" stroke="#222" stroke-width="0.12">0</text>
<text x="65.4" y="276.9" font-size="8" text-anchor="middle" fill="#222" stroke="#222" stroke-width="0.12">1</text>
<text x="72.9" y="276.9" font-size="8" text-anchor="middle" fill="#222" stroke="#222" stroke-width="0.12">2</text>
<text x="80.4" y="276.9" font-size="8" text-anchor="middle" fill="#222" stroke="#222" stroke-width="0.12">3</text>
<text x="87.9" y="276.9" font-size="8" text-anchor="middle" fill="#222" stroke="#222" stroke-width="0.12">4</text>
<text x="95.4" y="276.9" font-size="8" text-anchor="middle" fill="#222" stroke="#222" stroke-width="0.12">5</text>
<text x="102.9" y="276.9" font-size="8" text-anchor="middle" fill="#222" stroke="#222" stroke-width="0.12">6</text>
<text x="110.4" y="276.9" font-size="8" text-anchor="middle" fill="#222" stroke="#222" stroke-width="0.12">7</text>
<text x="0" y="0" font-size="8.5" text-anchor="middle" fill="#111" stroke="#111" stroke-width="0.4" textLength="30.8" lengthAdjust="spacingAndGlyphs" transform="translate(34.8 229.3) rotate(-90)">Probability</text>
<text x="128.7" y="276.9" font-size="8" text-anchor="middle" fill="#222" stroke="#222" stroke-width="0.12">0</text>
<text x="136.2" y="276.9" font-size="8" text-anchor="middle" fill="#222" stroke="#222" stroke-width="0.12">1</text>
<text x="143.7" y="276.9" font-size="8" text-anchor="middle" fill="#222" stroke="#222" stroke-width="0.12">2</text>
<text x="151.2" y="276.9" font-size="8" text-anchor="middle" fill="#222" stroke="#222" stroke-width="0.12">3</text>
<text x="158.7" y="276.9" font-size="8" text-anchor="middle" fill="#222" stroke="#222" stroke-width="0.12">4</text>
<text x="166.2" y="276.9" font-size="8" text-anchor="middle" fill="#222" stroke="#222" stroke-width="0.12">5</text>
<text x="173.7" y="276.9" font-size="8" text-anchor="middle" fill="#222" stroke="#222" stroke-width="0.12">6</text>
<text x="181.2" y="276.9" font-size="8" text-anchor="middle" fill="#222" stroke="#222" stroke-width="0.12">7</text>
<text x="159.9" y="290.3" font-size="9.6" text-anchor="middle" fill="#111" stroke="#111" stroke-width="0.4" textLength="15.8" lengthAdjust="spacingAndGlyphs">Years</text>
<text x="199.5" y="276.9" font-size="8" text-anchor="middle" fill="#222" stroke="#222" stroke-width="0.12">0</text>
<text x="207" y="276.9" font-size="8" text-anchor="middle" fill="#222" stroke="#222" stroke-width="0.12">1</text>
<text x="214.5" y="276.9" font-size="8" text-anchor="middle" fill="#222" stroke="#222" stroke-width="0.12">2</text>
<text x="222" y="276.9" font-size="8" text-anchor="middle" fill="#222" stroke="#222" stroke-width="0.12">3</text>
<text x="229.5" y="276.9" font-size="8" text-anchor="middle" fill="#222" stroke="#222" stroke-width="0.12">4</text>
<text x="237" y="276.9" font-size="8" text-anchor="middle" fill="#222" stroke="#222" stroke-width="0.12">5</text>
<text x="244.5" y="276.9" font-size="8" text-anchor="middle" fill="#222" stroke="#222" stroke-width="0.12">6</text>
<text x="252" y="276.9" font-size="8" text-anchor="middle" fill="#222" stroke="#222" stroke-width="0.12">7</text>
<text x="302.8" y="267.1" font-size="8" text-anchor="end" fill="#222" stroke="#222" stroke-width="0.12">0.0</text>
<text x="302.8" y="253.74" font-size="8" text-anchor="end" fill="#222" stroke="#222" stroke-width="0.12">0.2</text>
<text x="302.8" y="240.38" font-size="8" text-anchor="end" fill="#222" stroke="#222" stroke-width="0.12">0.4</text>
<text x="302.8" y="227.02" font-size="8" text-anchor="end" fill="#222" stroke="#222" stroke-width="0.12">0.6</text>
<text x="302.8" y="213.66" font-size="8" text-anchor="end" fill="#222" stroke="#222" stroke-width="0.12">0.8</text>
<text x="302.8" y="200.3" font-size="8" text-anchor="end" fill="#222" stroke="#222" stroke-width="0.12">1.0</text>
<text x="308.5" y="276.9" font-size="8" text-anchor="middle" fill="#222" stroke="#222" stroke-width="0.12">0</text>
<text x="316" y="276.9" font-size="8" text-anchor="middle" fill="#222" stroke="#222" stroke-width="0.12">1</text>
<text x="323.5" y="276.9" font-size="8" text-anchor="middle" fill="#222" stroke="#222" stroke-width="0.12">2</text>
<text x="331" y="276.9" font-size="8" text-anchor="middle" fill="#222" stroke="#222" stroke-width="0.12">3</text>
<text x="338.5" y="276.9" font-size="8" text-anchor="middle" fill="#222" stroke="#222" stroke-width="0.12">4</text>
<text x="346" y="276.9" font-size="8" text-anchor="middle" fill="#222" stroke="#222" stroke-width="0.12">5</text>
<text x="353.5" y="276.9" font-size="8" text-anchor="middle" fill="#222" stroke="#222" stroke-width="0.12">6</text>
<text x="361" y="276.9" font-size="8" text-anchor="middle" fill="#222" stroke="#222" stroke-width="0.12">7</text>
<text x="0" y="0" font-size="8.5" text-anchor="middle" fill="#111" stroke="#111" stroke-width="0.4" textLength="30.8" lengthAdjust="spacingAndGlyphs" transform="translate(285.4 229.3) rotate(-90)">Probability</text>
<text x="379.3" y="276.9" font-size="8" text-anchor="middle" fill="#222" stroke="#222" stroke-width="0.12">0</text>
<text x="386.8" y="276.9" font-size="8" text-anchor="middle" fill="#222" stroke="#222" stroke-width="0.12">1</text>
<text x="394.3" y="276.9" font-size="8" text-anchor="middle" fill="#222" stroke="#222" stroke-width="0.12">2</text>
<text x="401.8" y="276.9" font-size="8" text-anchor="middle" fill="#222" stroke="#222" stroke-width="0.12">3</text>
<text x="409.3" y="276.9" font-size="8" text-anchor="middle" fill="#222" stroke="#222" stroke-width="0.12">4</text>
<text x="416.8" y="276.9" font-size="8" text-anchor="middle" fill="#222" stroke="#222" stroke-width="0.12">5</text>
<text x="424.3" y="276.9" font-size="8" text-anchor="middle" fill="#222" stroke="#222" stroke-width="0.12">6</text>
<text x="431.8" y="276.9" font-size="8" text-anchor="middle" fill="#222" stroke="#222" stroke-width="0.12">7</text>
<text x="410.5" y="290.3" font-size="9.6" text-anchor="middle" fill="#111" stroke="#111" stroke-width="0.4" textLength="15.8" lengthAdjust="spacingAndGlyphs">Years</text>
<text x="450.1" y="276.9" font-size="8" text-anchor="middle" fill="#222" stroke="#222" stroke-width="0.12">0</text>
<text x="457.6" y="276.9" font-size="8" text-anchor="middle" fill="#222" stroke="#222" stroke-width="0.12">1</text>
<text x="465.1" y="276.9" font-size="8" text-anchor="middle" fill="#222" stroke="#222" stroke-width="0.12">2</text>
<text x="472.6" y="276.9" font-size="8" text-anchor="middle" fill="#222" stroke="#222" stroke-width="0.12">3</text>
<text x="480.1" y="276.9" font-size="8" text-anchor="middle" fill="#222" stroke="#222" stroke-width="0.12">4</text>
<text x="487.6" y="276.9" font-size="8" text-anchor="middle" fill="#222" stroke="#222" stroke-width="0.12">5</text>
<text x="495.1" y="276.9" font-size="8" text-anchor="middle" fill="#222" stroke="#222" stroke-width="0.12">6</text>
<text x="502.6" y="276.9" font-size="8" text-anchor="middle" fill="#222" stroke="#222" stroke-width="0.12">7</text>
<text x="52.2" y="548.1" font-size="8" text-anchor="end" fill="#222" stroke="#222" stroke-width="0.12">0.0</text>
<text x="52.2" y="534.74" font-size="8" text-anchor="end" fill="#222" stroke="#222" stroke-width="0.12">0.2</text>
<text x="52.2" y="521.38" font-size="8" text-anchor="end" fill="#222" stroke="#222" stroke-width="0.12">0.4</text>
<text x="52.2" y="508.02" font-size="8" text-anchor="end" fill="#222" stroke="#222" stroke-width="0.12">0.6</text>
<text x="52.2" y="494.66" font-size="8" text-anchor="end" fill="#222" stroke="#222" stroke-width="0.12">0.8</text>
<text x="52.2" y="481.3" font-size="8" text-anchor="end" fill="#222" stroke="#222" stroke-width="0.12">1.0</text>
<text x="57.9" y="557.9" font-size="8" text-anchor="middle" fill="#222" stroke="#222" stroke-width="0.12">0</text>
<text x="65.4" y="557.9" font-size="8" text-anchor="middle" fill="#222" stroke="#222" stroke-width="0.12">1</text>
<text x="72.9" y="557.9" font-size="8" text-anchor="middle" fill="#222" stroke="#222" stroke-width="0.12">2</text>
<text x="80.4" y="557.9" font-size="8" text-anchor="middle" fill="#222" stroke="#222" stroke-width="0.12">3</text>
<text x="87.9" y="557.9" font-size="8" text-anchor="middle" fill="#222" stroke="#222" stroke-width="0.12">4</text>
<text x="95.4" y="557.9" font-size="8" text-anchor="middle" fill="#222" stroke="#222" stroke-width="0.12">5</text>
<text x="102.9" y="557.9" font-size="8" text-anchor="middle" fill="#222" stroke="#222" stroke-width="0.12">6</text>
<text x="110.4" y="557.9" font-size="8" text-anchor="middle" fill="#222" stroke="#222" stroke-width="0.12">7</text>
<text x="0" y="0" font-size="8.5" text-anchor="middle" fill="#111" stroke="#111" stroke-width="0.4" textLength="30.8" lengthAdjust="spacingAndGlyphs" transform="translate(34.8 510.3) rotate(-90)">Probability</text>
<text x="128.7" y="557.9" font-size="8" text-anchor="middle" fill="#222" stroke="#222" stroke-width="0.12">0</text>
<text x="136.2" y="557.9" font-size="8" text-anchor="middle" fill="#222" stroke="#222" stroke-width="0.12">1</text>
<text x="143.7" y="557.9" font-size="8" text-anchor="middle" fill="#222" stroke="#222" stroke-width="0.12">2</text>
<text x="151.2" y="557.9" font-size="8" text-anchor="middle" fill="#222" stroke="#222" stroke-width="0.12">3</text>
<text x="158.7" y="557.9" font-size="8" text-anchor="middle" fill="#222" stroke="#222" stroke-width="0.12">4</text>
<text x="166.2" y="557.9" font-size="8" text-anchor="middle" fill="#222" stroke="#222" stroke-width="0.12">5</text>
<text x="173.7" y="557.9" font-size="8" text-anchor="middle" fill="#222" stroke="#222" stroke-width="0.12">6</text>
<text x="181.2" y="557.9" font-size="8" text-anchor="middle" fill="#222" stroke="#222" stroke-width="0.12">7</text>
<text x="159.9" y="571.3" font-size="9.6" text-anchor="middle" fill="#111" stroke="#111" stroke-width="0.4" textLength="15.8" lengthAdjust="spacingAndGlyphs">Years</text>
<text x="199.5" y="557.9" font-size="8" text-anchor="middle" fill="#222" stroke="#222" stroke-width="0.12">0</text>
<text x="207" y="557.9" font-size="8" text-anchor="middle" fill="#222" stroke="#222" stroke-width="0.12">1</text>
<text x="214.5" y="557.9" font-size="8" text-anchor="middle" fill="#222" stroke="#222" stroke-width="0.12">2</text>
<text x="222" y="557.9" font-size="8" text-anchor="middle" fill="#222" stroke="#222" stroke-width="0.12">3</text>
<text x="229.5" y="557.9" font-size="8" text-anchor="middle" fill="#222" stroke="#222" stroke-width="0.12">4</text>
<text x="237" y="557.9" font-size="8" text-anchor="middle" fill="#222" stroke="#222" stroke-width="0.12">5</text>
<text x="244.5" y="557.9" font-size="8" text-anchor="middle" fill="#222" stroke="#222" stroke-width="0.12">6</text>
<text x="252" y="557.9" font-size="8" text-anchor="middle" fill="#222" stroke="#222" stroke-width="0.12">7</text>
<text x="302.8" y="548.1" font-size="8" text-anchor="end" fill="#222" stroke="#222" stroke-width="0.12">0.0</text>
<text x="302.8" y="534.74" font-size="8" text-anchor="end" fill="#222" stroke="#222" stroke-width="0.12">0.2</text>
<text x="302.8" y="521.38" font-size="8" text-anchor="end" fill="#222" stroke="#222" stroke-width="0.12">0.4</text>
<text x="302.8" y="508.02" font-size="8" text-anchor="end" fill="#222" stroke="#222" stroke-width="0.12">0.6</text>
<text x="302.8" y="494.66" font-size="8" text-anchor="end" fill="#222" stroke="#222" stroke-width="0.12">0.8</text>
<text x="302.8" y="481.3" font-size="8" text-anchor="end" fill="#222" stroke="#222" stroke-width="0.12">1.0</text>
<text x="308.5" y="557.9" font-size="8" text-anchor="middle" fill="#222" stroke="#222" stroke-width="0.12">0</text>
<text x="316" y="557.9" font-size="8" text-anchor="middle" fill="#222" stroke="#222" stroke-width="0.12">1</text>
<text x="323.5" y="557.9" font-size="8" text-anchor="middle" fill="#222" stroke="#222" stroke-width="0.12">2</text>
<text x="331" y="557.9" font-size="8" text-anchor="middle" fill="#222" stroke="#222" stroke-width="0.12">3</text>
<text x="338.5" y="557.9" font-size="8" text-anchor="middle" fill="#222" stroke="#222" stroke-width="0.12">4</text>
<text x="346" y="557.9" font-size="8" text-anchor="middle" fill="#222" stroke="#222" stroke-width="0.12">5</text>
<text x="353.5" y="557.9" font-size="8" text-anchor="middle" fill="#222" stroke="#222" stroke-width="0.12">6</text>
<text x="361" y="557.9" font-size="8" text-anchor="middle" fill="#222" stroke="#222" stroke-width="0.12">7</text>
<text x="0" y="0" font-size="8.5" text-anchor="middle" fill="#111" stroke="#111" stroke-width="0.4" textLength="30.8" lengthAdjust="spacingAndGlyphs" transform="translate(285.4 510.3) rotate(-90)">Probability</text>
<text x="379.3" y="557.9" font-size="8" text-anchor="middle" fill="#222" stroke="#222" stroke-width="0.12">0</text>
<text x="386.8" y="557.9" font-size="8" text-anchor="middle" fill="#222" stroke="#222" stroke-width="0.12">1</text>
<text x="394.3" y="557.9" font-size="8" text-anchor="middle" fill="#222" stroke="#222" stroke-width="0.12">2</text>
<text x="401.8" y="557.9" font-size="8" text-anchor="middle" fill="#222" stroke="#222" stroke-width="0.12">3</text>
<text x="409.3" y="557.9" font-size="8" text-anchor="middle" fill="#222" stroke="#222" stroke-width="0.12">4</text>
<text x="416.8" y="557.9" font-size="8" text-anchor="middle" fill="#222" stroke="#222" stroke-width="0.12">5</text>
<text x="424.3" y="557.9" font-size="8" text-anchor="middle" fill="#222" stroke="#222" stroke-width="0.12">6</text>
<text x="431.8" y="557.9" font-size="8" text-anchor="middle" fill="#222" stroke="#222" stroke-width="0.12">7</text>
<text x="410.5" y="571.3" font-size="9.6" text-anchor="middle" fill="#111" stroke="#111" stroke-width="0.4" textLength="15.8" lengthAdjust="spacingAndGlyphs">Years</text>
<text x="450.1" y="557.9" font-size="8" text-anchor="middle" fill="#222" stroke="#222" stroke-width="0.12">0</text>
<text x="457.6" y="557.9" font-size="8" text-anchor="middle" fill="#222" stroke="#222" stroke-width="0.12">1</text>
<text x="465.1" y="557.9" font-size="8" text-anchor="middle" fill="#222" stroke="#222" stroke-width="0.12">2</text>
<text x="472.6" y="557.9" font-size="8" text-anchor="middle" fill="#222" stroke="#222" stroke-width="0.12">3</text>
<text x="480.1" y="557.9" font-size="8" text-anchor="middle" fill="#222" stroke="#222" stroke-width="0.12">4</text>
<text x="487.6" y="557.9" font-size="8" text-anchor="middle" fill="#222" stroke="#222" stroke-width="0.12">5</text>
<text x="495.1" y="557.9" font-size="8" text-anchor="middle" fill="#222" stroke="#222" stroke-width="0.12">6</text>
<text x="502.6" y="557.9" font-size="8" text-anchor="middle" fill="#222" stroke="#222" stroke-width="0.12">7</text>
</g></svg></body></html>
